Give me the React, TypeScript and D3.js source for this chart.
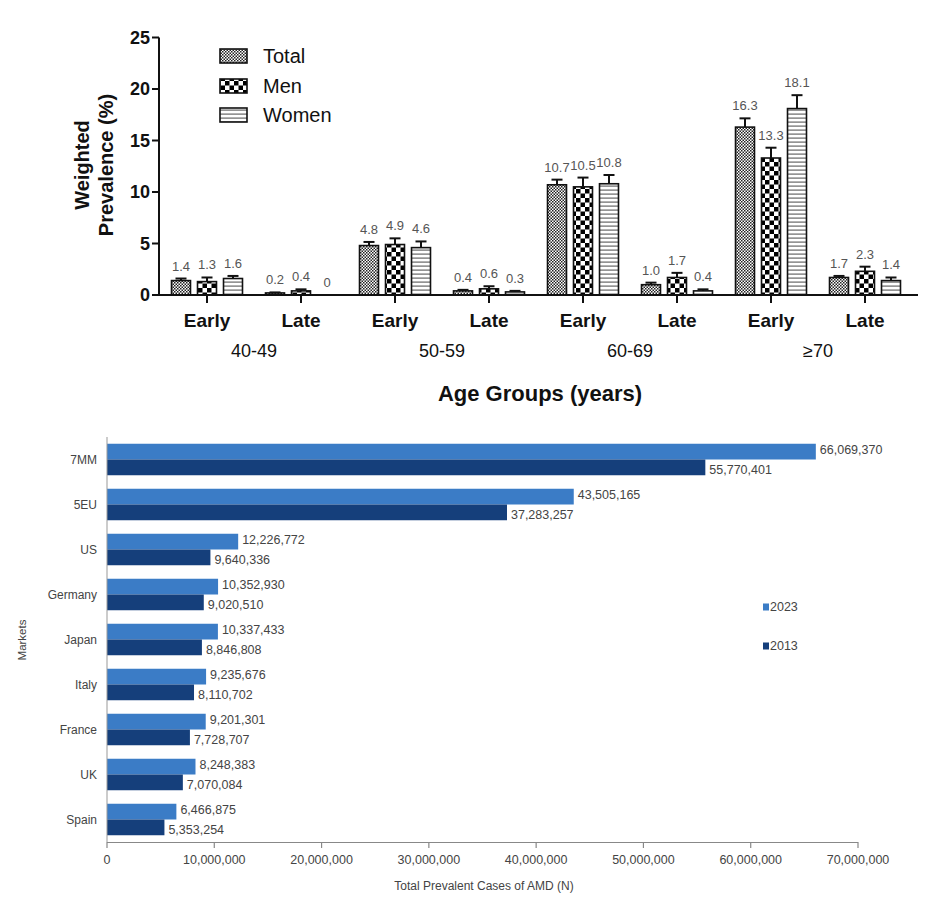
import React from "react";
import * as d3 from "d3";

// ---------- Top chart data ----------
const ageGroups = ["40-49", "50-59", "60-69", "≥70"];
const stages = ["Early", "Late"];
const seriesNames = ["Total", "Men", "Women"];
const totalValues = [1.4, 0.2, 4.8, 0.4, 10.7, 1.0, 16.3, 1.7];
const menValues = [1.3, 0.4, 4.9, 0.6, 10.5, 1.7, 13.3, 2.3];
const womenValues = [1.6, 0, 4.6, 0.3, 10.8, 0.4, 18.1, 1.4];
const totalErrors = [0.2, 0.05, 0.35, 0.1, 0.5, 0.2, 0.85, 0.15];
const menErrors = [0.4, 0.15, 0.6, 0.25, 0.9, 0.45, 1.0, 0.45];
const womenErrors = [0.25, 0, 0.6, 0.1, 0.85, 0.15, 1.3, 0.3];
const yTicks = [0, 5, 10, 15, 20, 25];

// ---------- Bottom chart data ----------
const markets = ["7MM", "5EU", "US", "Germany", "Japan", "Italy", "France", "UK", "Spain"];
const cases2023 = [66069370, 43505165, 12226772, 10352930, 10337433, 9235676, 9201301, 8248383, 6466875];
const cases2013 = [55770401, 37283257, 9640336, 9020510, 8846808, 8110702, 7728707, 7070084, 5353254];
const xTicks = [0, 10000000, 20000000, 30000000, 40000000, 50000000, 60000000, 70000000];
const years = ["2023", "2013"];

const FONT = "'Liberation Sans', Arial, Helvetica, sans-serif";

export default function App() {
  // ---- top chart scales ----
  const categories = ageGroups.flatMap((g) => stages.map((s) => `${s}|${g}`));
  const x0 = d3.scaleBand<string>().domain(categories).range([160, 912]).padding(0);
  const x1 = d3
    .scaleBand<string>()
    .domain(seriesNames)
    .range([-39, 39])
    .paddingInner(0.27)
    .paddingOuter(0.135);
  const y = d3.scaleLinear().domain([0, 25]).range([295, 37.5]);
  const seriesVals = [totalValues, menValues, womenValues];
  const seriesErr = [totalErrors, menErrors, womenErrors];
  const patterns = ["patTotal", "patMen", "patWomen"];

  const fmt1 = (v: number) => (v === 0 ? "0" : v.toFixed(1));

  // ---- bottom chart scales ----
  const xb = d3.scaleLinear().domain([0, 70000000]).range([107, 858]);
  const yb = d3.scaleBand<string>().domain(markets).range([437, 842]).paddingInner(0.3).paddingOuter(0.15);
  const ybInner = d3.scaleBand<string>().domain(years).range([0, yb.bandwidth()]).padding(0);
  const yearColors: Record<string, string> = { "2023": "#3b7cc6", "2013": "#153f7b" };
  const fmtComma = d3.format(",");
  const yearVals: Record<string, number[]> = { "2023": cases2023, "2013": cases2013 };

  return (
    <div style={{ position: "absolute", left: 0, top: 0 }}>
      <svg width={944} height={913} style={{ display: "block", background: "#fff" }} fontFamily={FONT}>
        <defs>
          <pattern id="patTotal" width={3} height={3} patternUnits="userSpaceOnUse">
            <rect width={3} height={3} fill="#fff" />
            <rect width={1.5} height={1.5} fill="#222" />
            <rect x={1.5} y={1.5} width={1.5} height={1.5} fill="#222" />
          </pattern>
          <pattern id="patMen" width={9} height={9} patternUnits="userSpaceOnUse">
            <rect width={9} height={9} fill="#fff" />
            <rect width={4.5} height={4.5} fill="#000" />
            <rect x={4.5} y={4.5} width={4.5} height={4.5} fill="#000" />
          </pattern>
          <pattern id="patWomen" width={6} height={4} patternUnits="userSpaceOnUse">
            <rect width={6} height={4} fill="#fff" />
            <rect y={1.5} width={6} height={1.2} fill="#666" />
          </pattern>
        </defs>

        {/* ================= TOP CHART ================= */}
        {/* Y axis */}
        <line x1={159} x2={159} y1={y(25)} y2={y(0)} stroke="#111" strokeWidth={2} />
        {yTicks.map((t) => (
          <g key={t}>
            <line x1={152} x2={159} y1={y(t)} y2={y(t)} stroke="#111" strokeWidth={2} />
            <text x={150} y={y(t)} dy="0.36em" textAnchor="end" fontSize={18} fontWeight="bold" fill="#111">
              {t}
            </text>
          </g>
        ))}
        <text
          transform={`translate(89,165) rotate(-90)`}
          textAnchor="middle"
          fontSize={20}
          fontWeight="bold"
          fill="#111"
        >
          Weighted
        </text>
        <text
          transform={`translate(113,165) rotate(-90)`}
          textAnchor="middle"
          fontSize={20}
          fontWeight="bold"
          fill="#111"
        >
          Prevalence (%)
        </text>

        {/* bars */}
        {categories.map((c, ci) => {
          const cx = (x0(c) as number) + x0.bandwidth() / 2;
          return (
            <g key={c}>
              {seriesNames.map((s, si) => {
                const v = seriesVals[si][ci];
                const e = seriesErr[si][ci];
                const bx = cx + (x1(s) as number);
                const bw = x1.bandwidth();
                const top = y(v);
                const cap = y(v + e);
                const mid = bx + bw / 2;
                return (
                  <g key={s}>
                    {v > 0 && (
                      <rect
                        x={bx}
                        y={top}
                        width={bw}
                        height={y(0) - top}
                        fill={`url(#${patterns[si]})`}
                        stroke="#111"
                        strokeWidth={1.6}
                      />
                    )}
                    {e > 0 && (
                      <g stroke="#111" strokeWidth={2}>
                        <line x1={mid} x2={mid} y1={top} y2={cap} />
                        <line x1={mid - 5.5} x2={mid + 5.5} y1={cap} y2={cap} />
                      </g>
                    )}
                    <text
                      x={mid}
                      y={cap - 8}
                      textAnchor="middle"
                      fontSize={13}
                      fill="#555"
                    >
                      {fmt1(v)}
                    </text>
                  </g>
                );
              })}
            </g>
          );
        })}

        {/* X axis */}
        <line x1={158} x2={918} y1={y(0)} y2={y(0)} stroke="#111" strokeWidth={2} />
        {categories.map((c) => {
          const cx = (x0(c) as number) + x0.bandwidth() / 2;
          const [stage] = c.split("|");
          return (
            <g key={c}>
              <line x1={cx} x2={cx} y1={y(0)} y2={y(0) + 8} stroke="#111" strokeWidth={2} />
              <text x={cx} y={327} textAnchor="middle" fontSize={19} fontWeight="bold" fill="#111">
                {stage}
              </text>
            </g>
          );
        })}
        {ageGroups.map((g) => {
          const a = (x0(`Early|${g}`) as number) + x0.bandwidth() / 2;
          const b = (x0(`Late|${g}`) as number) + x0.bandwidth() / 2;
          return (
            <text key={g} x={(a + b) / 2} y={357} textAnchor="middle" fontSize={18} fill="#111">
              {g}
            </text>
          );
        })}
        <text x={540} y={401} textAnchor="middle" fontSize={22} fontWeight="bold" fill="#111">
          Age Groups (years)
        </text>

        {/* legend */}
        {seriesNames.map((s, i) => {
          const cy = [56, 86, 115][i];
          return (
            <g key={s}>
              <rect
                x={220}
                y={cy - 7}
                width={27}
                height={14}
                fill={`url(#${patterns[i]})`}
                stroke="#111"
                strokeWidth={1.6}
              />
              <text x={263} y={cy} dy="0.36em" fontSize={20} fill="#111">
                {s}
              </text>
            </g>
          );
        })}

        {/* ================= BOTTOM CHART ================= */}
        {markets.map((m, mi) => (
          <g key={m}>
            <text
              x={97}
              y={(yb(m) as number) + yb.bandwidth() / 2}
              dy="0.35em"
              textAnchor="end"
              fontSize={12}
              fill="#444"
            >
              {m}
            </text>
            {years.map((yr) => {
              const v = yearVals[yr][mi];
              const by = (yb(m) as number) + (ybInner(yr) as number);
              const bh = ybInner.bandwidth();
              return (
                <g key={yr}>
                  <rect x={xb(0)} y={by} width={xb(v) - xb(0)} height={bh} fill={yearColors[yr]} />
                  <text
                    x={xb(v) + 4}
                    y={by + bh / 2 + (yr === "2023" ? 2.5 : 7)}
                    fontSize={12.5}
                    fill="#444"
                  >
                    {fmtComma(v)}
                  </text>
                </g>
              );
            })}
          </g>
        ))}
        {/* y axis line */}
        <line x1={107} x2={107} y1={437} y2={842} stroke="#999" strokeWidth={1} />
        {/* x axis */}
        <line x1={107} x2={858} y1={842.5} y2={842.5} stroke="#888" strokeWidth={1.2} />
        {xTicks.map((t) => (
          <g key={t}>
            <line x1={xb(t)} x2={xb(t)} y1={842} y2={848} stroke="#888" strokeWidth={1.2} />
            <text x={xb(t)} y={864} textAnchor="middle" fontSize={12.5} fill="#444">
              {fmtComma(t)}
            </text>
          </g>
        ))}
        <text x={484} y={890} textAnchor="middle" fontSize={12} fill="#444">
          Total Prevalent Cases of AMD (N)
        </text>
        <text transform="translate(26,640) rotate(-90)" textAnchor="middle" fontSize={11.5} fill="#444">
          Markets
        </text>

        {/* legend bottom */}
        {years.map((yr, i) => {
          const cy = [607, 646][i];
          return (
            <g key={yr}>
              <rect x={763} y={cy - 3.5} width={6} height={7} fill={yearColors[yr]} />
              <text x={770} y={cy} dy="0.35em" fontSize={12.5} fill="#444">
                {yr}
              </text>
            </g>
          );
        })}
      </svg>
    </div>
  );
}
